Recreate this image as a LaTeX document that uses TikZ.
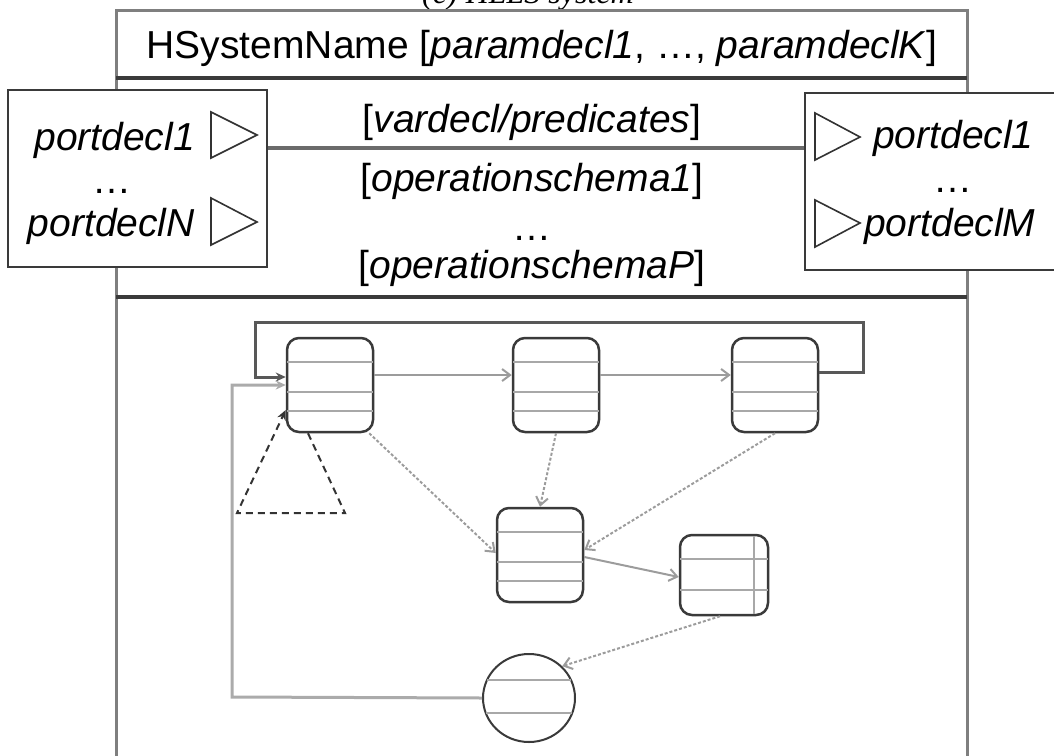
\documentclass[tikz,border=0pt]{standalone}
\usepackage{fontspec}
\setmainfont{Liberation Sans}
\newfontfamily\capfont{Liberation Serif}
\usepackage{tikz}
\usetikzlibrary{calc,arrows.meta,shapes.geometric}
\definecolor{frame}{HTML}{7F7F7F}
\definecolor{ink}{HTML}{3A3A3A}
\definecolor{rule}{HTML}{A8A8A8}
\definecolor{wire}{HTML}{9C9C9C}
\tikzset{
  outer/.style={draw=frame, line width=3pt},
  sepline/.style={draw=ink, line width=3.5pt},
  midline/.style={draw=ink!75, line width=3.5pt},
  portbox/.style={draw=ink, fill=white, line width=2.5pt, inner sep=0pt},
  tri/.style={draw=black!80, line width=1.6pt},
  state/.style={draw=ink, fill=white, rounded corners=12pt, line width=2.5pt,
    minimum width=86pt, minimum height=94pt, inner sep=0pt},
  hist/.style={draw=ink, fill=white, ellipse, line width=2pt,
    minimum width=92pt, minimum height=88pt, inner sep=0pt},
  row/.style={draw=rule, line width=2.5pt},
  trans/.style={draw=wire, line width=2pt, -{Straight Barb[length=8pt,width=12pt]}},
  dtrans/.style={trans, dash pattern=on 3pt off 2pt},
  loopline/.style={draw=ink!85, line width=3pt, -{Stealth[length=10pt,width=9pt]}},
  backline/.style={draw=wire!85, line width=3pt, -{Stealth[length=10pt,width=9pt]}},
  selfline/.style={draw=black!80, line width=2pt, dash pattern=on 7pt off 5pt,
    -{Stealth[length=10pt,width=9pt]}},
  lbl/.style={font=\fontsize{39}{44}\selectfont, inner sep=0pt},
  captext/.style={font=\capfont\itshape\fontsize{32}{36}\selectfont, inner sep=0pt}
}

\begin{document}
\begin{tikzpicture}[x=1pt, y=-1pt]
  \useasboundingbox (0,0) rectangle (1054,755);

  % caption, cut by the page top
  \node[captext, anchor=base] (caption) at (528,3) {(c) HLLS system};

  % hierarchical system frame
  \draw[outer] (116,770) -- (116,10) -- (967,10) -- (967,770);
  \draw[sepline] (116,78) -- (967,78);
  \draw[sepline] (116,297) -- (967,297);
  \node[lbl, anchor=base] (hname) at (542,58)
    {HSystemName [\textit{paramdecl1}, …, \textit{paramdeclK}]};

  % port boxes
  \node[portbox, minimum width=259pt, minimum height=177pt] (portL) at (137.5,178.5) {};
  \node[portbox, minimum width=260pt, minimum height=177pt] (portR) at (935,181.5) {};
  \draw[midline] ($(portL.east)+(0,-30.5)$) -- ($(portR.west |- portL.east)+(0,-30.5)$);

  \node[lbl, anchor=base east] (inA) at (195,150) {\textit{portdecl1}};
  \node[lbl, anchor=base] (inDots) at (112,193) {…};
  \node[lbl, anchor=base east] (inN) at (195,236) {\textit{portdeclN}};
  \draw[tri] (211,112) -- (257,135) -- (211,158) -- cycle;
  \draw[tri] (211,198) -- (257,222) -- (211,245) -- cycle;

  \node[lbl, anchor=base west] (outA) at (873,148) {\textit{portdecl1}};
  \node[lbl, anchor=base] (outDots) at (953,192) {…};
  \node[lbl, anchor=base west] (outM) at (864,236) {\textit{portdeclM}};
  \draw[tri] (815,113) -- (860,137) -- (815,160) -- cycle;
  \draw[tri] (815,200) -- (860,223) -- (815,247) -- cycle;

  \node[lbl, anchor=base] (vars) at (532,132) {[\textit{vardecl/predicates}]};
  \node[lbl, anchor=base] (opA) at (532,191) {[\textit{operationschema1}]};
  \node[lbl, anchor=base] (opDots) at (532,240) {…};
  \node[lbl, anchor=base] (opP) at (532,278) {[\textit{operationschemaP}]};

  % states
  \node[state] (s1) at (330,385) {};
  \node[state] (s2) at (556,385) {};
  \node[state] (s3) at (775,385) {};
  \node[state] (s4) at (540,555) {};
  \node[state, minimum width=88pt, minimum height=80pt] (s5) at (724,575) {};
  \node[hist] (h) at (529,698) {};

  \foreach \s in {s1,s2,s3,s4}
    \foreach \d in {25,55,74}
      \draw[row] ($(\s.north west)+(1.5,\d)$) -- ($(\s.north east)+(-1.5,\d)$);
  \foreach \d in {25,56}
    \draw[row] ($(s5.north west)+(1.5,\d)$) -- ($(s5.north east)+(-1.5,\d)$);
  \draw[row] ($(s5.north west)+(75,2)$) -- ($(s5.south west)+(75,-2)$);
  \draw[row] ($(h.center)+(-42,-18)$) -- ($(h.center)+(42,-18)$);
  \draw[row] ($(h.center)+(-43,15)$) -- ($(h.center)+(43,15)$);

  % transitions
  \coordinate (loopR) at (863,322);
  \coordinate (loopL) at (255,322);
  \coordinate (back) at (232,697);
  \coordinate (selfA) at (345,513);
  \coordinate (selfB) at (237,513);

  \draw[loopline] ($(s3.east)+(0,-13)$) -| (loopR) -- (loopL) |- ($(s1.west)+(0,-8)$);
  \draw[backline] (h.west) -- (back) |- (s1.west);
  \draw[selfline] ($(s1.south)+(-22,0)$) -- (selfA) -- (selfB) -- ($(s1.west)+(0,25)$);

  \draw[trans] ($(s1.east)+(0,-10)$) -- ($(s2.west)+(0,-10)$);
  \draw[trans] ($(s2.east)+(0,-10)$) -- ($(s3.west)+(0,-10)$);
  \draw[dtrans] ($(s1.south east)+(-5,0)$) -- ($(s4.west)+(0,-2)$);
  \draw[dtrans] (s2.south) -- (s4.north);
  \draw[dtrans] ($(s3.south)+(0,0)$) -- ($(s4.east)+(0,-5)$);
  \draw[trans] ($(s4.east)+(0,2)$) -- ($(s5.west)+(0,2)$);
  \draw[dtrans] ($(s5.south)+(-4,0)$) -- (h.north east);
\end{tikzpicture}
\end{document}
